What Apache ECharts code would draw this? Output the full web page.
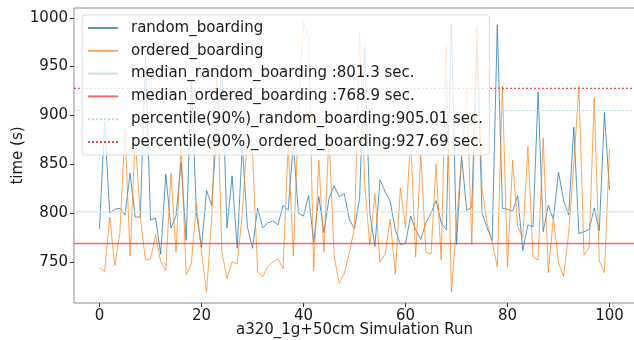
<!DOCTYPE html>
<html>
<head>
<meta charset="utf-8">
<script src="https://cdn.jsdelivr.net/npm/echarts@6.0.0/dist/echarts.min.js"></script>
<style>
  html, body { margin: 0; padding: 0; background: #fff; }
  #chart { width: 634px; height: 340px; }
</style>
</head>
<body>
<div id="chart"></div>
<script>
// boarding time per simulation run (s)
const randomBoarding = [
  784, 893, 800, 804, 805, 798, 841, 796, 796, 962,
  793, 795, 758, 840, 785, 797, 852, 772, 935, 800,
  765, 823, 808, 888, 948, 785, 838, 764, 870, 786,
  764, 805, 785, 790, 792, 788, 808, 803, 872, 800,
  797, 818, 770, 817, 780, 815, 828, 817, 820, 793,
  784, 815, 970, 800, 766, 834, 822, 812, 783, 768,
  769, 797, 783, 773, 790, 800, 813, 790, 783, 993,
  768, 858, 803, 806, 975, 800, 785, 772, 993, 805,
  804, 802, 818, 762, 788, 786, 924, 781, 808, 794,
  842, 813, 798, 888, 779, 781, 783, 805, 782, 903,
  824
];
const orderedBoarding = [
  744, 740, 796, 746, 780, 886, 756, 878, 796, 752,
  753, 778, 750, 741, 841, 760, 870, 737, 748, 810,
  760, 719, 795, 940, 760, 733, 750, 748, 800, 880,
  862, 740, 735, 745, 750, 753, 743, 870, 756, 900,
  996, 980, 741, 854, 760, 880, 756, 728, 738, 760,
  785, 985, 830, 767, 820, 750, 758, 794, 738, 826,
  785, 877, 755, 861, 760, 758, 850, 752, 971, 719,
  790, 858, 928, 768, 991, 825, 790, 770, 745, 930,
  745, 854, 786, 775, 868, 755, 752, 877, 739, 796,
  749, 735, 780, 850, 930, 757, 765, 918, 751, 739,
  865
];
const runIds = randomBoarding.map((_, i) => i);

const medianRandom = 801.3;
const medianOrdered = 768.9;
const p90Random = 905.01;
const p90Ordered = 927.69;

const xTicks = [0, 20, 40, 60, 80, 100];
const yTicks = [750, 800, 850, 900, 950, 1000];

const X_MIN = -5, X_MAX = 105;
const FONT = 'DejaVu Sans';

const pairs = (ys) => runIds.map((x, i) => [x, ys[i]]);
const hline = (v) => [[X_MIN, v], [X_MAX, v]];

const chart = echarts.init(document.getElementById('chart'), null, { renderer: 'canvas' });

chart.setOption({
  animation: false,
  textStyle: { fontFamily: FONT },
  grid: {
    left: 74, right: -1, top: 8, bottom: 37,
    containLabel: false, outerBoundsMode: 'none',
    show: true, borderColor: '#8c8c8c', borderWidth: 1
  },
  legend: {
    orient: 'vertical',
    left: 82, top: 15,
    padding: [4, 6, 4, 5],
    itemGap: 4.8,
    itemWidth: 30, itemHeight: 14,
    backgroundColor: 'rgba(255,255,255,0.8)',
    borderColor: '#dcdcdc', borderWidth: 1, borderRadius: 3,
    // hide the symbol that line series put in the middle of the legend icon
    itemStyle: { color: 'rgba(0,0,0,0)', borderColor: 'rgba(0,0,0,0)', borderWidth: 0 },
    textStyle: { fontFamily: FONT, fontSize: 15, color: '#1a1a1a', lineHeight: 18, padding: [0, 0, 0, 8] },
    data: [
      'random_boarding',
      'ordered_boarding',
      'median_random_boarding :' + medianRandom + ' sec.',
      'median_ordered_boarding :' + medianOrdered + ' sec.',
      'percentile(90%)_random_boarding:' + p90Random + ' sec.',
      'percentile(90%)_ordered_boarding:' + p90Ordered + ' sec.'
    ]
  },
  xAxis: {
    type: 'value', min: X_MIN, max: X_MAX,
    name: 'a320_1g+50cm Simulation Run', nameLocation: 'middle', nameGap: 19,
    nameMoveOverlap: false,
    nameTextStyle: { fontFamily: FONT, fontSize: 15, color: '#1a1a1a', lineHeight: 17 },
    splitLine: { show: false },
    axisLine: { show: false, onZero: false },
    axisTick: { show: true, inside: false, length: 4, customValues: xTicks, lineStyle: { color: '#333' } },
    axisLabel: { customValues: xTicks, margin: 6, fontFamily: FONT, fontSize: 15, color: '#1a1a1a' }
  },
  yAxis: {
    type: 'value', min: 708, max: 1010,
    name: 'time (s)', nameLocation: 'middle', nameGap: 48,
    nameMoveOverlap: false,
    nameTextStyle: { fontFamily: FONT, fontSize: 15, color: '#1a1a1a' },
    splitLine: { show: false },
    // keep the axis on the left edge, not at x = 0
    axisLine: { show: false, onZero: false },
    axisTick: { show: true, inside: false, length: 4, customValues: yTicks, lineStyle: { color: '#333' } },
    axisLabel: {
      customValues: yTicks, margin: 6, fontFamily: FONT, fontSize: 15, color: '#1a1a1a',
      formatter: (v) => String(v)
    }
  },
  series: [
    {
      name: 'random_boarding', type: 'line', data: pairs(randomBoarding),
      symbol: 'none', z: 2,
      lineStyle: { width: 1, color: 'rgba(31,119,180,0.75)' }, itemStyle: { color: 'rgba(31,119,180,0.75)' }
    },
    {
      name: 'ordered_boarding', type: 'line', data: pairs(orderedBoarding),
      symbol: 'none', z: 2,
      lineStyle: { width: 1, color: 'rgba(255,127,14,0.7)' }, itemStyle: { color: 'rgba(255,127,14,0.7)' }
    },
    {
      name: 'median_random_boarding :' + medianRandom + ' sec.', type: 'line', data: hline(medianRandom),
      symbol: 'none', z: 3,
      lineStyle: { width: 1, color: '#c6e2ee' }, itemStyle: { color: '#c6e2ee' }
    },
    {
      name: 'median_ordered_boarding :' + medianOrdered + ' sec.', type: 'line', data: hline(medianOrdered),
      symbol: 'none', z: 3,
      lineStyle: { width: 1.5, color: 'rgba(240,60,60,0.75)' }, itemStyle: { color: 'rgba(240,60,60,0.75)' }
    },
    {
      name: 'percentile(90%)_random_boarding:' + p90Random + ' sec.', type: 'line', data: hline(p90Random),
      symbol: 'none', z: 3,
      lineStyle: { width: 1, type: [2, 2], color: '#b5dcec' }, itemStyle: { color: '#b5dcec' }
    },
    {
      name: 'percentile(90%)_ordered_boarding:' + p90Ordered + ' sec.', type: 'line', data: hline(p90Ordered),
      symbol: 'none', z: 3,
      lineStyle: { width: 1.2, type: [2, 2], color: 'rgba(245,50,60,0.85)' }, itemStyle: { color: 'rgba(245,50,60,0.85)' }
    }
  ]
});
</script>
</body>
</html>
